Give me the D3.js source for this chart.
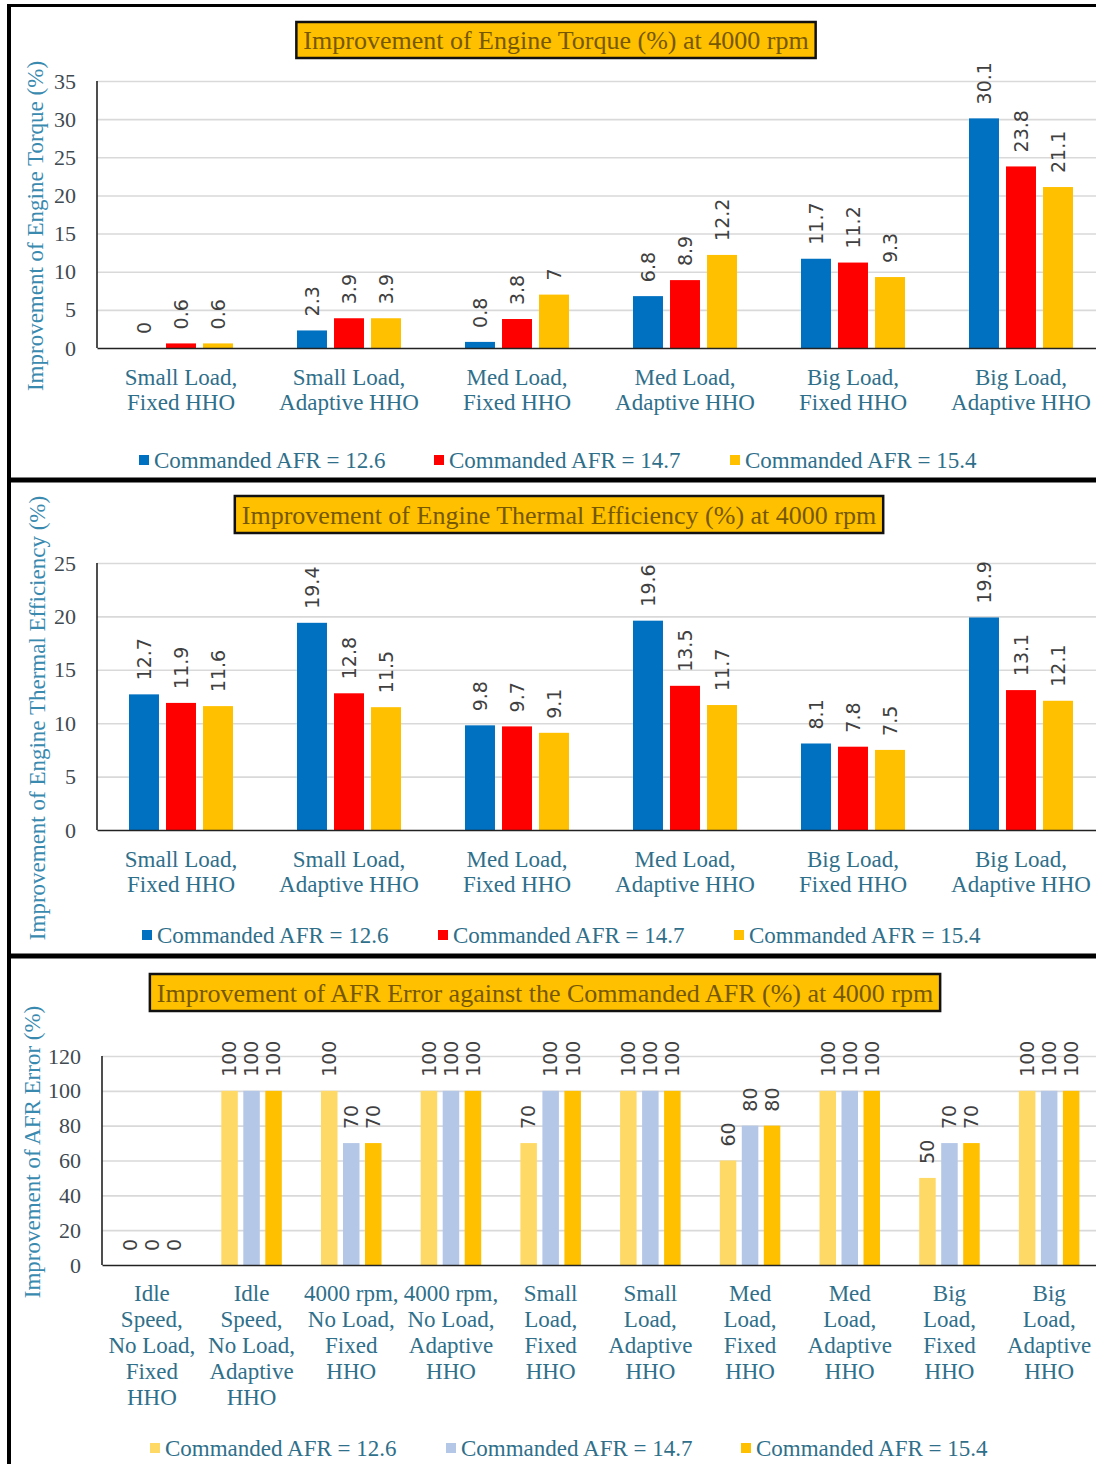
<!DOCTYPE html>
<html>
<head>
<meta charset="utf-8">
<script src="https://cdn.jsdelivr.net/npm/d3@7"></script>
<style>
  html, body { margin: 0; padding: 0; background: #fff; }
  svg { display: block; }
</style>
</head>
<body>
<svg id="chart" width="1096" height="1464"></svg>
<script>
// ---------- DATA ----------
const seriesNames = ["Commanded AFR = 12.6", "Commanded AFR = 14.7", "Commanded AFR = 15.4"];

const torqueTitle = "Improvement of Engine Torque (%) at 4000 rpm";
const torqueYTitle = "Improvement of Engine Torque (%)";
const torqueCategories = ["Small Load,\nFixed HHO", "Small Load,\nAdaptive HHO", "Med Load,\nFixed HHO",
                          "Med Load,\nAdaptive HHO", "Big Load,\nFixed HHO", "Big Load,\nAdaptive HHO"];
const torqueAfr126 = [0, 2.3, 0.8, 6.8, 11.7, 30.1];
const torqueAfr147 = [0.6, 3.9, 3.8, 8.9, 11.2, 23.8];
const torqueAfr154 = [0.6, 3.9, 7, 12.2, 9.3, 21.1];
const torqueTicks = [0, 5, 10, 15, 20, 25, 30, 35];

const thermalTitle = "Improvement of Engine Thermal Efficiency (%) at 4000 rpm";
const thermalYTitle = "Improvement of Engine Thermal Efficiency (%)";
const thermalCategories = torqueCategories.slice();
const thermalAfr126 = [12.7, 19.4, 9.8, 19.6, 8.1, 19.9];
const thermalAfr147 = [11.9, 12.8, 9.7, 13.5, 7.8, 13.1];
const thermalAfr154 = [11.6, 11.5, 9.1, 11.7, 7.5, 12.1];
const thermalTicks = [0, 5, 10, 15, 20, 25];

const afrTitle = "Improvement of AFR Error against the Commanded AFR (%) at 4000 rpm";
const afrYTitle = "Improvement of AFR Error (%)";
const afrCategories = ["Idle\nSpeed,\nNo Load,\nFixed\nHHO", "Idle\nSpeed,\nNo Load,\nAdaptive\nHHO",
                       "4000 rpm,\nNo Load,\nFixed\nHHO", "4000 rpm,\nNo Load,\nAdaptive\nHHO",
                       "Small\nLoad,\nFixed\nHHO", "Small\nLoad,\nAdaptive\nHHO",
                       "Med\nLoad,\nFixed\nHHO", "Med\nLoad,\nAdaptive\nHHO",
                       "Big\nLoad,\nFixed\nHHO", "Big\nLoad,\nAdaptive\nHHO"];
const afrAfr126 = [0, 100, 100, 100, 70, 100, 60, 100, 50, 100];
const afrAfr147 = [0, 100, 70, 100, 100, 100, 80, 100, 70, 100];
const afrAfr154 = [0, 100, 70, 100, 100, 100, 80, 100, 70, 100];
const afrTicks = [0, 20, 40, 60, 80, 100, 120];

// ---------- STYLE ----------
const SERIF = "'Liberation Serif', 'Times New Roman', serif";
const SANS = "'DejaVu Sans', sans-serif";
const C_LABEL = "#2f6f8a";
const C_YTITLE = "#3a8ab0";
const C_TICK = "#404a52";
const C_TITLE = "#765800";
const C_VALUE = "#404040";

const svg = d3.select("#chart");
svg.append("rect").attr("width", 1096).attr("height", 1464).attr("fill", "#fff");

function drawPanel(cfg) {
  const g = svg.append("g");
  const x0 = d3.scaleBand().domain(cfg.categories).range([cfg.left, cfg.right])
    .paddingInner(cfg.padInner).paddingOuter(cfg.padInner / 2);
  const x1 = d3.scaleBand().domain([0, 1, 2]).range([0, x0.bandwidth()])
    .paddingInner(cfg.padSeries).paddingOuter(0);
  const y = d3.scaleLinear().domain([0, d3.max(cfg.ticks)]).range([cfg.bottom, cfg.top]);

  // gridlines
  g.append("g").attr("transform", `translate(${cfg.left},0)`)
    .call(d3.axisLeft(y).tickValues(cfg.ticks.filter(t => t > 0)).tickSize(-(cfg.right - cfg.left)).tickFormat(""))
    .call(s => s.select(".domain").remove())
    .call(s => s.selectAll(".tick line").attr("stroke", "#d9d9d9").attr("stroke-width", 1.6));

  // y tick labels
  g.append("g").attr("transform", `translate(${cfg.left},0)`)
    .call(d3.axisLeft(y).tickValues(cfg.ticks).tickSize(0).tickPadding(21))
    .call(s => s.select(".domain").remove())
    .call(s => s.selectAll(".tick text").attr("font-family", SERIF).attr("font-size", 22).attr("fill", C_TICK));

  // bars
  const series = cfg.series;
  series.forEach((vals, si) => {
    g.append("g").selectAll("rect").data(vals).join("rect")
      .attr("x", (d, i) => x0(cfg.categories[i]) + x1(si))
      .attr("y", d => y(d))
      .attr("width", x1.bandwidth())
      .attr("height", d => y(0) - y(d))
      .attr("fill", cfg.colors[si]);
  });

  // value labels
  series.forEach((vals, si) => {
    g.append("g").selectAll("text").data(vals).join("text")
      .attr("transform", (d, i) => {
        const cx = x0(cfg.categories[i]) + x1(si) + x1.bandwidth() / 2;
        return `translate(${cx},${y(d) - cfg.valueGap}) rotate(-90)`;
      })
      .attr("dy", "0.36em")
      .attr("text-anchor", "start")
      .attr("font-family", SANS).attr("font-size", 19).attr("fill", C_VALUE)
      .text(d => String(d));
  });

  // axes lines
  g.append("line").attr("x1", cfg.left).attr("x2", cfg.left).attr("y1", cfg.top).attr("y2", cfg.bottom)
    .attr("stroke", "#222").attr("stroke-width", 1.6);
  const xa = g.append("g").attr("transform", `translate(0,${cfg.bottom})`)
    .call(d3.axisBottom(x0).tickSize(0));
  xa.select(".domain").attr("stroke", "#222").attr("stroke-width", 1.6);
  xa.selectAll(".tick text").each(function (d) {
    const el = d3.select(this);
    el.text(null).attr("y", cfg.labelFirst - cfg.bottom).attr("dy", null)
      .attr("font-family", SERIF).attr("font-size", 23).attr("fill", C_LABEL);
    d.split("\n").forEach((line, i) => {
      el.append("tspan").attr("x", 0).attr("y", cfg.labelFirst - cfg.bottom + i * cfg.lineHeight)
        .attr("dy", "0.35em").text(line);
    });
  });

  // y title
  g.append("text")
    .attr("transform", `translate(${cfg.yTitleX},${cfg.yTitleY}) rotate(-90)`)
    .attr("text-anchor", "middle").attr("dy", "0.35em")
    .attr("font-family", SERIF).attr("font-size", 23).attr("fill", C_YTITLE)
    .text(cfg.yTitle);

  // chart title with box
  const tg = g.append("g");
  const tbox = tg.append("rect");
  const tt = tg.append("text")
    .attr("x", cfg.titleX).attr("y", (cfg.titleTop + cfg.titleBottom) / 2).attr("dy", "0.35em")
    .attr("text-anchor", "middle")
    .attr("font-family", SERIF).attr("font-size", 26).attr("fill", C_TITLE)
    .text(cfg.title);
  const bb = tt.node().getBBox();
  tbox.attr("x", bb.x - 7).attr("width", bb.width + 14)
    .attr("y", cfg.titleTop).attr("height", cfg.titleBottom - cfg.titleTop)
    .attr("fill", "#FFC000").attr("stroke", "#111").attr("stroke-width", 2.5);

  // legend
  const lg = g.append("g");
  seriesNames.forEach((name, i) => {
    lg.append("rect").attr("x", cfg.legendXs[i]).attr("y", cfg.legendY - 5).attr("width", 10).attr("height", 10)
      .attr("fill", cfg.colors[i]);
    lg.append("text").attr("x", cfg.legendXs[i] + 15).attr("y", cfg.legendY).attr("dy", "0.35em")
      .attr("font-family", SERIF).attr("font-size", 23).attr("fill", C_LABEL)
      .text(name);
  });
}

drawPanel({
  categories: torqueCategories, series: [torqueAfr126, torqueAfr147, torqueAfr154], ticks: torqueTicks,
  colors: ["#0070C0", "#FF0000", "#FFC000"],
  left: 97, right: 1105, top: 81, bottom: 348, padInner: 0.381, padSeries: 0.19, valueGap: 14,
  labelFirst: 377, lineHeight: 25, legendY: 460, legendXs: [139, 434, 730],
  yTitle: torqueYTitle, yTitleX: 35, yTitleY: 226,
  title: torqueTitle, titleX: 556, titleTop: 22, titleBottom: 58
});

drawPanel({
  categories: thermalCategories, series: [thermalAfr126, thermalAfr147, thermalAfr154], ticks: thermalTicks,
  colors: ["#0070C0", "#FF0000", "#FFC000"],
  left: 97, right: 1105, top: 563, bottom: 830, padInner: 0.381, padSeries: 0.19, valueGap: 14,
  labelFirst: 859, lineHeight: 25, legendY: 935, legendXs: [142, 438, 734],
  yTitle: thermalYTitle, yTitleX: 37, yTitleY: 718,
  title: thermalTitle, titleX: 559, titleTop: 496, titleBottom: 533
});

drawPanel({
  categories: afrCategories, series: [afrAfr126, afrAfr147, afrAfr154], ticks: afrTicks,
  colors: ["#FFD966", "#B4C7E7", "#FFC000"],
  left: 102, right: 1099, top: 1056, bottom: 1265, padInner: 0.393, padSeries: 0.25, valueGap: 14,
  labelFirst: 1293, lineHeight: 26, legendY: 1448, legendXs: [150, 446, 741],
  yTitle: afrYTitle, yTitleX: 32, yTitleY: 1152,
  title: afrTitle, titleX: 545, titleTop: 974, titleBottom: 1011
});

// frame lines
const frame = svg.append("g").attr("stroke", "#000").attr("fill", "none");
frame.append("line").attr("x1", 9).attr("x2", 9).attr("y1", 4).attr("y2", 1464).attr("stroke-width", 4);
frame.append("line").attr("x1", 7).attr("x2", 1096).attr("y1", 5.5).attr("y2", 5.5).attr("stroke-width", 3);
frame.append("line").attr("x1", 7).attr("x2", 1096).attr("y1", 480).attr("y2", 480).attr("stroke-width", 5);
frame.append("line").attr("x1", 7).attr("x2", 1096).attr("y1", 956).attr("y2", 956).attr("stroke-width", 5);
</script>
</body>
</html>
